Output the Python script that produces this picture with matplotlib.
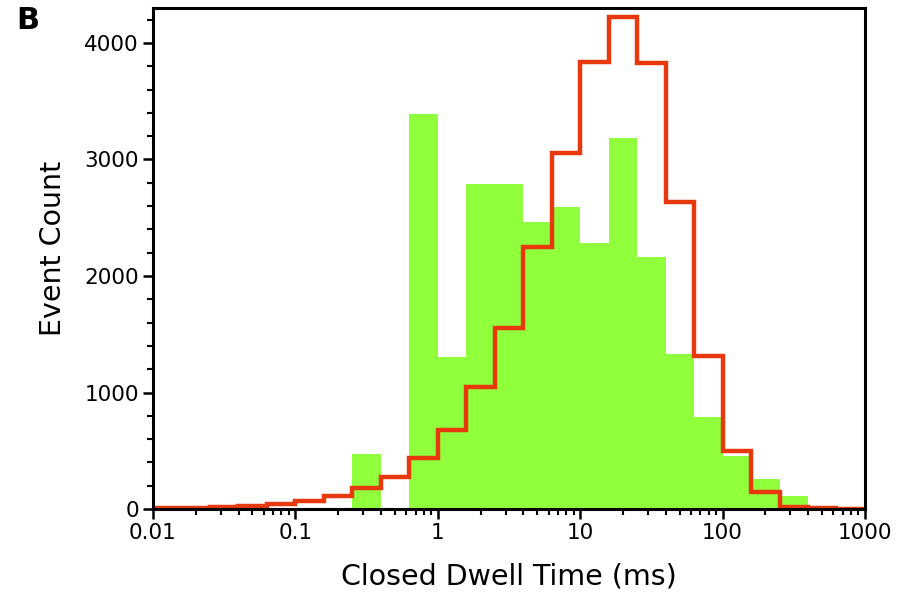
import numpy as np
import matplotlib
matplotlib.use("Agg")
import matplotlib.pyplot as plt
from matplotlib.ticker import FixedLocator, FixedFormatter, LogLocator, MultipleLocator, NullFormatter

plt.rcParams['font.family'] = ['DejaVu Sans']

# bin edges, 5 per decade from 0.01 to 1000 ms
edges = np.logspace(-2, 3, 26)

# green histogram (measured)
green_counts = [0, 0, 0, 0, 0, 0, 0, 472, 0, 3388, 1302, 2790, 2790,
                2466, 2589, 2280, 3187, 2160, 1330, 787, 455, 262, 112, 0, 0]

# red step curve
red_counts = [10, 12, 18, 28, 40, 72, 112, 178, 277, 435, 678, 1044, 1556,
              2249, 3058, 3840, 4226, 3826, 2638, 1313, 498, 143, 20, 6, 3]

xticks = [0.01, 0.1, 1, 10, 100, 1000]
xticklabels = ["0.01", "0.1", "1", "10", "100", "1000"]
yticks = [0, 1000, 2000, 3000, 4000]

fig = plt.figure(figsize=(9.1, 5.94), dpi=100)
ax = fig.add_axes([0.168, 0.143, 0.7825, 0.8435])

left = edges[:-1]
widths = edges[1:] - edges[:-1]
ax.bar(left, green_counts, width=widths, align="edge", color="#90FF3C",
       edgecolor="none", zorder=1)
ax.stairs(red_counts, edges, baseline=None, color="#E8380E", linewidth=3.2,
          zorder=2)

ax.set_xscale("log")
ax.set_xlim(0.01, 1000)
ax.set_ylim(0, 4300)

ax.xaxis.set_major_locator(FixedLocator(xticks))
ax.xaxis.set_major_formatter(FixedFormatter(xticklabels))
ax.xaxis.set_minor_locator(LogLocator(base=10, subs=np.arange(2, 10)))
ax.xaxis.set_minor_formatter(NullFormatter())
ax.yaxis.set_major_locator(FixedLocator(yticks))
ax.yaxis.set_minor_locator(MultipleLocator(200))

ax.tick_params(axis="both", which="major", direction="out", length=7, width=1.8,
               labelsize=15.5, top=False, right=False, pad=3)
ax.tick_params(axis="both", which="minor", direction="out", length=4, width=1.5,
               top=False, right=False)

for s in ax.spines.values():
    s.set_linewidth(2.2)

ax.set_xlabel("Closed Dwell Time (ms)", fontsize=20.5, labelpad=14)
ax.set_ylabel("Event Count", fontsize=20.5)
ax.yaxis.set_label_coords(-0.12, 0.52)

fig.text(0.018, 0.99, "B", fontsize=22, fontweight="bold", va="top", ha="left")

fig.savefig("out.png", dpi=100)
